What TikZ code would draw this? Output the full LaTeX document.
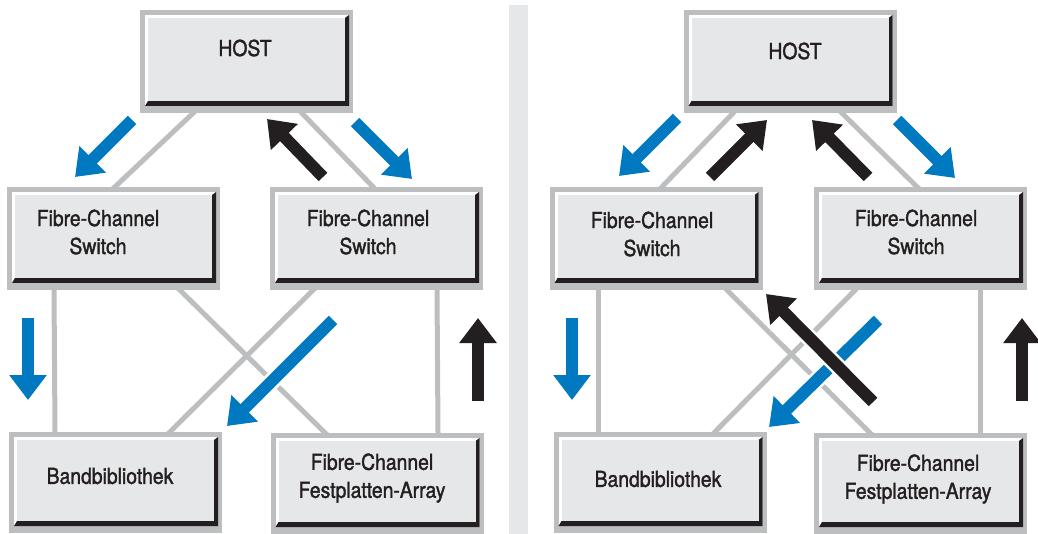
\documentclass[tikz,border=0pt]{standalone}
\usepackage{fontspec}
\setmainfont{TeX Gyre Heros}[FakeStretch=0.88, FakeBold=1.5]
\usetikzlibrary{arrows.meta, calc}
\definecolor{rimgray}{HTML}{BCBEC0}
\definecolor{facegray}{HTML}{E6E7E8}
\definecolor{flowblue}{HTML}{0079C1}
\definecolor{flowblack}{HTML}{231F20}
\pgfdeclarelayer{bg}
\pgfsetlayers{bg,main}

\begin{document}
\begin{tikzpicture}[x=1pt, y=-1pt,
    devbox/.style={rectangle, fill=rimgray, inner sep=0pt, minimum width=213pt, minimum height=#1,
      path picture={
        \fill[white] ([shift={(5pt,7pt)}]path picture bounding box.south west) rectangle ([shift={(-4pt,-5pt)}]path picture bounding box.north east);
        \fill[flowblack] ([shift={(5pt,7pt)}]path picture bounding box.south west) -- ([shift={(-4pt,7pt)}]path picture bounding box.south east)
          -- ([shift={(-4pt,-5pt)}]path picture bounding box.north east) -- ([shift={(-8pt,-8pt)}]path picture bounding box.north east)
          -- ([shift={(-8pt,12pt)}]path picture bounding box.south east) -- ([shift={(8pt,12pt)}]path picture bounding box.south west) -- cycle;
        \fill[facegray] ([shift={(8pt,12pt)}]path picture bounding box.south west) rectangle ([shift={(-8pt,-8pt)}]path picture bounding box.north east);
      }},
    devbox/.default=103pt,
    lbl/.style={align=center, inner sep=0pt, text=flowblack, font=\fontsize{22}{28}\selectfont},
    link/.style={draw=rimgray, line width=5pt, shorten <=-6pt, shorten >=-6pt},
    flow/.style={line width=12pt, -{Triangle[width=36pt,length=25pt]},
      preaction={draw=white, line width=17pt, -{Triangle[width=44pt,length=30pt]}}}]
  \useasboundingbox (0,0) rectangle (1038,534);

  % separator
  \fill[facegray] (509,5) rectangle (528,534);

  % left panel
  \node[devbox] (hostL) at (246.5,61.5) {};
  \node[devbox] (swLL) at (113.5,238.5) {};
  \node[devbox] (swLR) at (376.5,238.5) {};
  \node[devbox=101pt] (tapeL) at (115.5,482.5) {};
  \node[devbox=101pt] (diskL) at (377,483.5) {};
  \node[lbl] (hostLt) at (245,48) {HOST};
  \node[lbl] (swLLt) at (98,232) {Fibre-Channel\\Switch};
  \node[lbl] (swLRt) at (368,232) {Fibre-Channel\\Switch};
  \node[lbl] (tapeLt) at (110,476) {Bandbibliothek};
  \node[lbl] (diskLt) at (372,478) {Fibre-Channel\\Festplatten-Array};

  % right panel
  \node[devbox] (hostR) at (790,61.5) {};
  \node[devbox] (swRL) at (656,238.5) {};
  \node[devbox] (swRR) at (920.5,238.5) {};
  \node[devbox=101pt] (tapeR) at (660,482.5) {};
  \node[devbox=101pt] (diskR) at (920.5,483.5) {};
  \node[lbl] (hostRt) at (795,51) {HOST};
  \node[lbl] (swRLt) at (652,234) {Fibre-Channel\\Switch};
  \node[lbl] (swRRt) at (916,232) {Fibre-Channel\\Switch};
  \node[lbl] (tapeRt) at (658,479) {Bandbibliothek};
  \node[lbl] (diskRt) at (918,479) {Fibre-Channel\\Festplatten-Array};

  % links
  \begin{pgfonlayer}{bg}
    \draw[link] ([xshift=-53.5pt]hostL.south) -- ([xshift=1.5pt]swLL.north);
    \draw[link] ([xshift=55.5pt]hostL.south) -- ([xshift=-3.5pt]swLR.north);
    \draw[link] ([xshift=-59.5pt]swLL.south) -- ([xshift=-60.5pt]tapeL.north);
    \draw[link] ([xshift=66.5pt]swLL.south) -- ([xshift=-52pt]diskL.north);
    \draw[link] ([xshift=-63.5pt]swLR.south) -- ([xshift=54.5pt]tapeL.north);
    \draw[link] ([xshift=60.5pt]swLR.south) -- ([xshift=61pt]diskL.north);
    \draw[link] ([xshift=-57pt]hostR.south) -- ([xshift=6pt]swRL.north);
    \draw[link] ([xshift=52pt]hostR.south) -- ([xshift=-3.5pt]swRR.north);
    \draw[link] ([xshift=-58pt]swRL.south) -- ([xshift=-62pt]tapeR.north);
    \draw[link] ([xshift=71pt]swRL.south) -- ([xshift=-50.5pt]diskR.north);
    \draw[link] ([xshift=-65.5pt]swRR.south) -- ([xshift=55pt]tapeR.north);
    \draw[link] ([xshift=59.5pt]swRR.south) -- ([xshift=59.5pt]diskR.north);
  \end{pgfonlayer}

  % flows, left
  \draw[flow, flowblue] (132,120) -- (75,177);
  \draw[flow, flowblack] (323,177) -- (267,119);
  \draw[flow, flowblue] (355,122) -- (412,179);
  \draw[flow, flowblue] (28,318) -- (28,400);
  \draw[flow, flowblue] (333,320) -- (227,426);
  \draw[flow, flowblack] (478,401) -- (478,318);

  % flows, right
  \draw[flow, flowblue] (677,118) -- (619,176);
  \draw[flow, flowblack] (710,177) -- (767,120);
  \draw[flow, flowblack] (868,177) -- (812,120);
  \draw[flow, flowblue] (897,120) -- (955,178);
  \draw[flow, flowblue] (572,318) -- (572,400);
  \draw[flow, flowblue] (878,320) -- (769,427);
  \draw[flow, flowblack] (873,402) -- (766,294);
  \draw[flow, flowblack] (1022,401) -- (1022,318);
\end{tikzpicture}
\end{document}
